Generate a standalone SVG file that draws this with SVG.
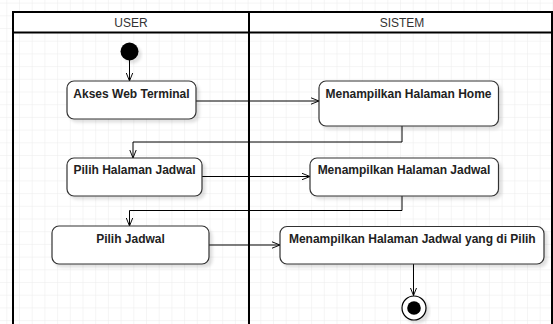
<svg xmlns="http://www.w3.org/2000/svg" width="553" height="324" viewBox="0 0 553 324">
  <defs>
    <pattern id="grid" x="6.3" y="2.6" width="12.7" height="12.7" patternUnits="userSpaceOnUse">
      <path d="M 0 0 L 12.7 0 M 0 0 L 0 12.7" fill="none" stroke="#ebebeb" stroke-width="1"/>
    </pattern>
    <filter id="shadow" x="-10%" y="-10%" width="130%" height="140%">
      <feDropShadow dx="3" dy="3" stdDeviation="1.5" flood-color="#000" flood-opacity="0.12"/>
    </filter>
    <marker id="open" viewBox="0 0 10 10" refX="10" refY="5" markerWidth="8" markerHeight="8" markerUnits="userSpaceOnUse" orient="auto">
      <path d="M 0 1 L 10 5 L 0 9" fill="none" stroke="#000" stroke-width="1.2"/>
    </marker>
  </defs>
  <style>
    .lane { fill: none; stroke: #000; stroke-width: 2; }
    .head { fill: #fff; stroke: #000; stroke-width: 2; }
    .htxt { font-family: "Liberation Sans", Arial, sans-serif; font-size: 12px; fill: #333; text-anchor: middle; }
    .box { fill: #fff; stroke: #333; stroke-width: 1.2; filter: url(#shadow); }
    .ntxt { font-family: "Liberation Sans", Arial, sans-serif; font-size: 12px; font-weight: bold; fill: #222; text-anchor: middle; }
    .edge { fill: none; stroke: #000; stroke-width: 1; marker-end: url(#open); }
  </style>

  <!-- background and grid -->
  <rect x="0" y="0" width="553" height="324" fill="#fff"/>
  <rect x="0" y="0" width="553" height="324" fill="url(#grid)"/>

  <!-- swimlanes -->
  <g id="lane-user">
    <rect class="head" x="13" y="12" width="236" height="20.5"/>
    <line class="lane" x1="13" y1="32.5" x2="13" y2="326"/>
    <text class="htxt" x="131" y="27">USER</text>
  </g>
  <g id="lane-sistem">
    <rect class="head" x="249" y="12" width="303" height="20.5"/>
    <line class="lane" x1="249" y1="32.5" x2="249" y2="326"/>
    <line class="lane" x1="552" y1="32.5" x2="552" y2="326"/>
    <text class="htxt" x="402" y="27">SISTEM</text>
  </g>

  <!-- connectors -->
  <g id="connectors">
    <path class="edge" d="M 129.5 60 L 129.5 81"/>
    <path class="edge" d="M 196 101 L 319 101"/>
    <path class="edge" d="M 402 126 L 402 142 L 133 142 L 133 158"/>
    <path class="edge" d="M 202 176.5 L 310 176.5"/>
    <path class="edge" d="M 402 196 L 402 210.5 L 129.5 210.5 L 129.5 226"/>
    <path class="edge" d="M 209 245 L 280 245"/>
    <path class="edge" d="M 413.5 264 L 413.5 295.5"/>
  </g>

  <!-- nodes -->
  <g id="start">
    <circle cx="129.5" cy="51.5" r="9" fill="#000" filter="url(#shadow)"/>
  </g>
  <g id="akses-web-terminal">
    <rect class="box" x="67" y="81" width="129" height="38" rx="7"/>
    <text class="ntxt" x="131.5" y="98">Akses Web Terminal</text>
  </g>
  <g id="menampilkan-halaman-home">
    <rect class="box" x="319" y="81" width="179.5" height="45" rx="7"/>
    <text class="ntxt" x="408.5" y="98">Menampilkan Halaman Home</text>
  </g>
  <g id="pilih-halaman-jadwal">
    <rect class="box" x="67" y="158" width="135" height="38" rx="7"/>
    <text class="ntxt" x="134.5" y="174">Pilih Halaman Jadwal</text>
  </g>
  <g id="menampilkan-halaman-jadwal">
    <rect class="box" x="310" y="158" width="188.5" height="38" rx="7"/>
    <text class="ntxt" x="404" y="174">Menampilkan Halaman Jadwal</text>
  </g>
  <g id="pilih-jadwal">
    <rect class="box" x="52" y="226" width="157" height="38" rx="7"/>
    <text class="ntxt" x="130.5" y="242.5">Pilih Jadwal</text>
  </g>
  <g id="menampilkan-jadwal-dipilih">
    <rect class="box" x="280" y="226.5" width="264" height="37.5" rx="7"/>
    <text class="ntxt" x="412.3" y="242.5">Menampilkan Halaman Jadwal yang di Pilih</text>
  </g>
  <g id="end">
    <circle cx="414" cy="308" r="12" fill="#fff" stroke="#000" stroke-width="1.2" filter="url(#shadow)"/>
    <circle cx="414" cy="308" r="6.8" fill="#000"/>
  </g>
</svg>
